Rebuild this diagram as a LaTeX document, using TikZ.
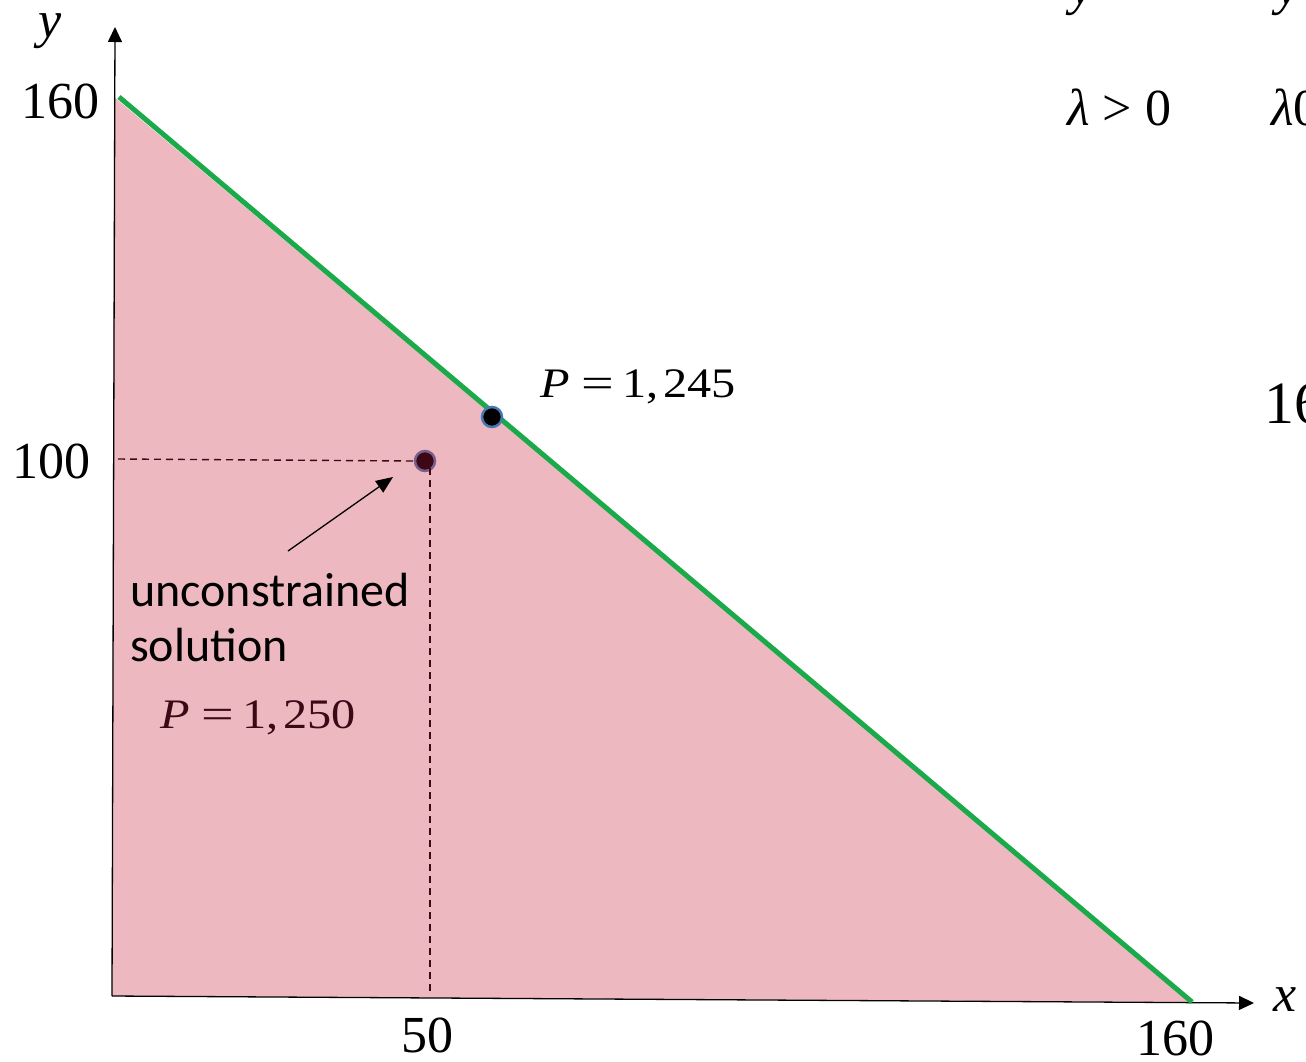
\documentclass[tikz,border=0pt]{standalone}
\usepackage{fontspec}
\usepackage{graphicx}
\setmainfont{Liberation Serif}
\newfontfamily\wideserif[FakeStretch=1.15]{Liberation Serif}
\newfontfamily\calibri{Carlito}
\usetikzlibrary{arrows.meta}
\definecolor{pinkfill}{RGB}{237,184,192}
\definecolor{greenline}{RGB}{26,170,74}
\definecolor{maroon}{RGB}{60,8,22}
\definecolor{dotring}{RGB}{120,95,140}
\definecolor{bluering}{RGB}{70,120,180}
\newcommand{\Pval}[1]{{\wideserif\itshape P}\hspace{12pt}\scalebox{1.2}[1]{\wideserif =}\hspace{8pt}{\wideserif 1,}\hspace{5pt}{\wideserif #1}}
\begin{document}
\begin{tikzpicture}[x=1pt,y=-1pt,
  lbl/.style={inner sep=0pt, anchor=base west, font=\fontsize{52}{60}\selectfont},
  plbl/.style={inner sep=0pt, anchor=base west, font=\fontsize{42}{50}\selectfont},
  sanslbl/.style={inner sep=0pt, anchor=base west, font=\calibri\fontsize{48}{55}\selectfont},
  axis/.style={line width=1.3pt, -{Triangle[length=15pt,width=14pt]}},
  guide/.style={maroon, line width=1.4pt, dash pattern=on 7pt off 5pt},
  dot/.style={circle, minimum size=20pt, inner sep=0pt, line width=2.5pt}]
\useasboundingbox (0,0) rectangle (1306,1061);
% region
\fill[pinkfill] (114,97) -- (1192,1002) -- (112,996) -- cycle;
% axes
\coordinate (O) at (112,996);
\coordinate (ytop) at (115,27);
\coordinate (xend) at (1254,1003);
\draw[axis] (O) -- (ytop);
\draw[axis] (O) -- (xend);
% constraint line
\coordinate (c1) at (119,97);
\coordinate (c2) at (1192,1002);
\draw[greenline, line width=5pt] (c1) -- (c2);
% guides
\node[dot, fill=maroon, draw=dotring] (u) at (425,461) {};
\node[dot, fill=black, draw=bluering] (cstr) at (492,417) {};
\coordinate (g1) at (118,459);
\coordinate (g2) at (430,996);
\draw[guide] (g1) -- (u.west);
\draw[guide] (u.south -| g2) ++(0,4pt) coordinate (g3);
\draw[guide] (g3) -- (g2);
% arrow
\coordinate (a1) at (288,551);
\coordinate (a2) at (393,477);
\draw[line width=1.3pt, -{Triangle[length=17pt,width=14pt]}] (a1) -- (a2);
% labels
\node[lbl] (ylab) at (38,37) {\itshape y};
\node[lbl] (l160y) at (21,118) {160};
\node[lbl] (l100) at (12,478) {100};
\node[lbl] (l50) at (401,1052) {50};
\node[lbl] (l160x) at (1136,1055) {160};
\node[lbl] (xlab) at (1273,1011) {\itshape x};
\node[plbl] (p1) at (540,397) {\Pval{245}};
\node[plbl, text=maroon] (p2) at (160,728) {\Pval{250}};
\node[sanslbl] (uc1) at (130,606) {unconstrained};
\node[sanslbl] (uc2) at (130,661) {solution};
% partially visible material at the right edge
\node[lbl] (ry1) at (1070,4) {\itshape y};
\node[lbl] (ry2) at (1276,4) {\itshape y};
\node[lbl] (lam1) at (1067,125) {\itshape λ\hspace{13pt}\upshape >\hspace{13pt}0};
\node[lbl] (lam2) at (1271,125) {\itshape λ\upshape 0};
\node[lbl, font=\fontsize{60}{70}\selectfont] (r16) at (1264,423) {16};
\end{tikzpicture}
\end{document}
